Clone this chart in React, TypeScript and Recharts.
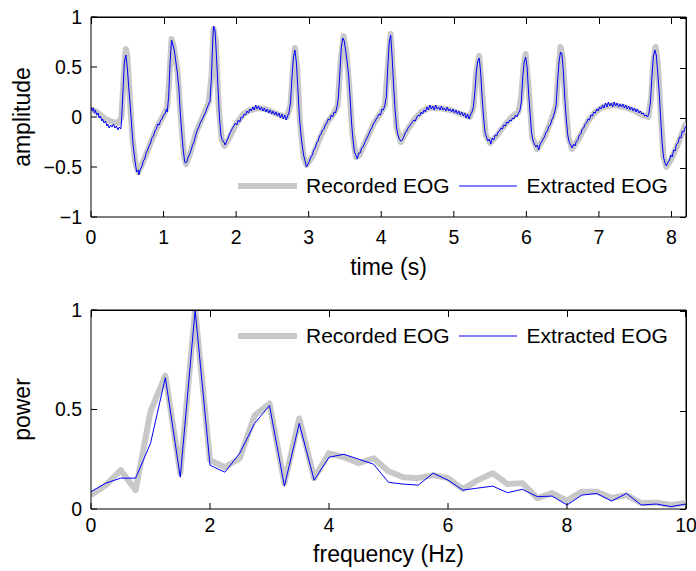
import { Legend, Line, LineChart, ReferenceLine, XAxis, YAxis } from "recharts"

// time series (s, amplitude)
const recordedEog: [number, number][] = [
  [0.0, 0.08], [0.1, 0.04], [0.2, -0.02], [0.3, -0.05], [0.38, -0.06], [0.42, 0.0], [0.45, 0.4], [0.48, 0.68],
  [0.5, 0.62], [0.53, 0.25], [0.57, -0.2], [0.61, -0.45], [0.65, -0.55], [0.7, -0.48], [0.8, -0.3], [0.9, -0.12],
  [1.0, 0.02], [1.05, 0.1], [1.08, 0.4], [1.11, 0.78], [1.14, 0.7], [1.19, 0.47], [1.24, -0.02], [1.28, -0.38],
  [1.31, -0.47], [1.36, -0.38], [1.45, -0.15], [1.55, 0.02], [1.62, 0.14], [1.66, 0.4], [1.69, 0.88], [1.72, 0.75],
  [1.76, 0.1], [1.8, -0.22], [1.84, -0.29], [1.9, -0.22], [2.0, -0.07], [2.1, 0.03], [2.2, 0.07], [2.3, 0.09],
  [2.4, 0.08], [2.5, 0.05], [2.6, 0.02], [2.7, 0.0], [2.75, 0.12], [2.78, 0.45], [2.81, 0.69], [2.84, 0.5],
  [2.88, -0.05], [2.93, -0.4], [2.97, -0.48], [3.05, -0.4], [3.15, -0.22], [3.25, -0.06], [3.35, 0.04], [3.4, 0.12],
  [3.44, 0.55], [3.48, 0.81], [3.52, 0.65], [3.56, 0.3], [3.6, -0.15], [3.65, -0.4], [3.7, -0.38], [3.8, -0.22],
  [3.9, -0.06], [4.0, 0.05], [4.05, 0.12], [4.09, 0.5], [4.13, 0.83], [4.17, 0.35], [4.21, -0.1], [4.27, -0.25],
  [4.35, -0.14], [4.45, -0.03], [4.55, 0.05], [4.65, 0.09], [4.8, 0.09], [4.95, 0.07], [5.1, 0.03], [5.22, 0.0],
  [5.27, 0.1], [5.31, 0.45], [5.35, 0.61], [5.39, 0.25], [5.44, -0.18], [5.5, -0.26], [5.6, -0.18], [5.7, -0.08],
  [5.8, 0.0], [5.89, 0.05], [5.93, 0.2], [5.96, 0.5], [5.99, 0.63], [6.03, 0.3], [6.08, -0.2], [6.15, -0.32],
  [6.25, -0.2], [6.35, -0.02], [6.41, 0.12], [6.44, 0.45], [6.47, 0.7], [6.5, 0.6], [6.54, 0.15], [6.58, -0.2],
  [6.63, -0.32], [6.72, -0.22], [6.85, -0.04], [6.95, 0.05], [7.05, 0.1], [7.2, 0.12], [7.35, 0.1], [7.5, 0.06],
  [7.6, 0.02], [7.68, 0.0], [7.72, 0.2], [7.75, 0.55], [7.78, 0.7], [7.81, 0.55], [7.85, 0.05], [7.89, -0.4],
  [7.93, -0.5], [8.0, -0.42], [8.1, -0.25], [8.2, -0.06],
]

const extractedEog: [number, number][] = [
  [0.0, 0.1], [0.02, 0.06], [0.03, 0.09], [0.05, 0.04], [0.06, 0.07], [0.08, 0.02], [0.1, 0.04], [0.11, -0.01],
  [0.13, 0.01], [0.15, -0.04], [0.16, -0.02], [0.18, -0.06], [0.2, -0.04], [0.22, -0.09], [0.23, -0.07], [0.25, -0.11],
  [0.27, -0.08], [0.29, -0.1], [0.31, -0.07], [0.33, -0.11], [0.35, -0.09], [0.37, -0.13], [0.39, -0.1], [0.41, -0.12],
  [0.42, -0.05], [0.44, 0.25], [0.46, 0.55], [0.48, 0.62], [0.5, 0.5], [0.52, 0.3], [0.55, 0.02], [0.58, -0.28],
  [0.61, -0.46], [0.63, -0.55], [0.65, -0.53], [0.66, -0.58], [0.68, -0.52], [0.7, -0.5], [0.72, -0.44], [0.74, -0.42],
  [0.76, -0.36], [0.78, -0.33], [0.8, -0.29], [0.82, -0.26], [0.84, -0.21], [0.86, -0.19], [0.88, -0.14], [0.9, -0.12],
  [0.92, -0.07], [0.94, -0.08], [0.96, -0.03], [0.98, -0.02], [1.0, 0.02], [1.02, 0.03], [1.04, 0.08], [1.05, 0.05],
  [1.07, 0.2], [1.09, 0.55], [1.11, 0.77], [1.13, 0.72], [1.15, 0.66], [1.17, 0.55], [1.19, 0.44], [1.21, 0.3],
  [1.23, 0.05], [1.25, -0.15], [1.27, -0.32], [1.29, -0.44], [1.3, -0.46], [1.32, -0.45], [1.34, -0.4], [1.36, -0.37],
  [1.38, -0.33], [1.4, -0.28], [1.42, -0.25], [1.44, -0.19], [1.46, -0.14], [1.48, -0.11], [1.5, -0.07], [1.52, -0.04],
  [1.54, -0.01], [1.56, 0.02], [1.58, 0.05], [1.6, 0.09], [1.62, 0.13], [1.64, 0.16], [1.66, 0.4], [1.68, 0.8],
  [1.69, 0.91], [1.71, 0.86], [1.73, 0.6], [1.75, 0.3], [1.77, 0.0], [1.79, -0.18], [1.81, -0.23], [1.83, -0.25],
  [1.85, -0.28], [1.87, -0.24], [1.89, -0.21], [1.91, -0.17], [1.93, -0.14], [1.95, -0.11], [1.97, -0.09], [1.99, -0.06],
  [2.01, -0.08], [2.03, -0.03], [2.05, -0.05], [2.07, 0.0], [2.09, -0.01], [2.11, 0.03], [2.13, 0.02], [2.15, 0.06],
  [2.17, 0.04], [2.19, 0.08], [2.21, 0.06], [2.23, 0.1], [2.25, 0.07], [2.27, 0.12], [2.29, 0.08], [2.31, 0.11],
  [2.33, 0.07], [2.35, 0.1], [2.37, 0.06], [2.39, 0.09], [2.41, 0.05], [2.43, 0.08], [2.45, 0.04], [2.47, 0.07],
  [2.49, 0.03], [2.51, 0.06], [2.53, 0.02], [2.55, 0.05], [2.57, 0.01], [2.59, 0.04], [2.61, -0.01], [2.63, 0.03],
  [2.65, -0.02], [2.67, 0.02], [2.69, -0.03], [2.71, 0.01], [2.73, 0.05], [2.75, 0.15], [2.77, 0.4], [2.79, 0.6],
  [2.81, 0.67], [2.83, 0.55], [2.85, 0.3], [2.87, 0.02], [2.89, -0.15], [2.91, -0.28], [2.93, -0.38], [2.95, -0.44],
  [2.97, -0.5], [2.99, -0.47], [3.01, -0.44], [3.03, -0.4], [3.05, -0.38], [3.07, -0.33], [3.09, -0.31], [3.11, -0.26],
  [3.13, -0.24], [3.15, -0.19], [3.17, -0.17], [3.19, -0.13], [3.21, -0.12], [3.23, -0.08], [3.25, -0.06], [3.27, -0.02],
  [3.29, -0.03], [3.31, 0.02], [3.33, 0.0], [3.35, 0.05], [3.37, 0.04], [3.39, 0.1], [3.41, 0.2], [3.43, 0.45],
  [3.45, 0.7], [3.47, 0.79], [3.49, 0.76], [3.51, 0.66], [3.53, 0.55], [3.55, 0.42], [3.57, 0.2], [3.59, -0.05],
  [3.61, -0.22], [3.63, -0.35], [3.65, -0.38], [3.67, -0.42], [3.69, -0.36], [3.71, -0.36], [3.73, -0.31], [3.75, -0.3],
  [3.77, -0.26], [3.79, -0.23], [3.81, -0.2], [3.83, -0.17], [3.85, -0.13], [3.87, -0.11], [3.89, -0.07], [3.91, -0.05],
  [3.93, -0.02], [3.95, 0.0], [3.97, 0.03], [3.99, 0.02], [4.01, 0.08], [4.03, 0.07], [4.05, 0.12], [4.07, 0.2],
  [4.09, 0.5], [4.11, 0.75], [4.13, 0.82], [4.15, 0.6], [4.17, 0.32], [4.19, 0.08], [4.21, -0.1], [4.23, -0.18],
  [4.25, -0.22], [4.27, -0.24], [4.29, -0.23], [4.31, -0.2], [4.33, -0.16], [4.35, -0.14], [4.37, -0.11], [4.39, -0.09],
  [4.41, -0.07], [4.43, -0.05], [4.45, -0.03], [4.47, -0.04], [4.49, 0.0], [4.51, 0.02], [4.53, 0.01], [4.55, 0.05],
  [4.57, 0.03], [4.59, 0.07], [4.61, 0.05], [4.63, 0.1], [4.65, 0.07], [4.67, 0.12], [4.69, 0.08], [4.71, 0.11],
  [4.73, 0.07], [4.75, 0.12], [4.77, 0.08], [4.79, 0.1], [4.81, 0.07], [4.83, 0.11], [4.85, 0.07], [4.87, 0.09],
  [4.89, 0.06], [4.91, 0.1], [4.93, 0.06], [4.95, 0.08], [4.97, 0.05], [4.99, 0.08], [5.01, 0.04], [5.03, 0.07],
  [5.05, 0.03], [5.07, 0.06], [5.09, 0.02], [5.11, 0.05], [5.13, 0.01], [5.15, 0.04], [5.17, -0.01], [5.19, 0.03],
  [5.21, -0.02], [5.23, 0.02], [5.25, 0.05], [5.27, 0.1], [5.29, 0.25], [5.31, 0.45], [5.33, 0.56], [5.35, 0.59],
  [5.37, 0.45], [5.39, 0.2], [5.41, 0.0], [5.43, -0.15], [5.45, -0.2], [5.47, -0.24], [5.49, -0.22], [5.51, -0.27],
  [5.53, -0.21], [5.55, -0.23], [5.57, -0.18], [5.59, -0.19], [5.61, -0.15], [5.63, -0.14], [5.65, -0.11], [5.67, -0.12],
  [5.69, -0.08], [5.71, -0.09], [5.73, -0.05], [5.75, -0.06], [5.77, -0.03], [5.79, -0.04], [5.81, -0.01], [5.83, -0.02],
  [5.85, 0.02], [5.87, 0.0], [5.89, 0.04], [5.91, 0.06], [5.93, 0.15], [5.95, 0.4], [5.97, 0.55], [5.99, 0.6],
  [6.01, 0.5], [6.03, 0.25], [6.05, 0.05], [6.07, -0.15], [6.09, -0.23], [6.11, -0.27], [6.13, -0.3], [6.15, -0.28],
  [6.17, -0.33], [6.19, -0.27], [6.21, -0.25], [6.23, -0.22], [6.25, -0.2], [6.27, -0.15], [6.29, -0.14], [6.31, -0.09],
  [6.33, -0.08], [6.35, -0.03], [6.37, 0.0], [6.39, 0.05], [6.41, 0.12], [6.43, 0.35], [6.45, 0.55], [6.47, 0.65],
  [6.49, 0.63], [6.51, 0.45], [6.53, 0.19], [6.55, -0.02], [6.57, -0.18], [6.59, -0.25], [6.61, -0.28], [6.63, -0.31],
  [6.65, -0.27], [6.67, -0.29], [6.69, -0.24], [6.71, -0.23], [6.73, -0.18], [6.75, -0.17], [6.77, -0.12], [6.79, -0.11],
  [6.81, -0.07], [6.83, -0.06], [6.85, -0.02], [6.87, -0.03], [6.89, 0.02], [6.91, 0.01], [6.93, 0.05], [6.95, 0.04],
  [6.97, 0.08], [6.99, 0.06], [7.01, 0.1], [7.03, 0.08], [7.05, 0.12], [7.07, 0.09], [7.09, 0.14], [7.11, 0.1],
  [7.13, 0.15], [7.15, 0.11], [7.17, 0.14], [7.19, 0.1], [7.21, 0.15], [7.23, 0.11], [7.25, 0.14], [7.27, 0.1],
  [7.29, 0.13], [7.31, 0.1], [7.33, 0.13], [7.35, 0.09], [7.37, 0.12], [7.39, 0.08], [7.41, 0.11], [7.43, 0.07],
  [7.45, 0.1], [7.47, 0.06], [7.49, 0.09], [7.51, 0.05], [7.53, 0.08], [7.55, 0.04], [7.57, 0.06], [7.59, 0.03],
  [7.61, 0.04], [7.63, 0.01], [7.65, 0.02], [7.67, 0.0], [7.69, 0.04], [7.71, 0.15], [7.73, 0.4], [7.75, 0.6],
  [7.77, 0.67], [7.79, 0.62], [7.81, 0.45], [7.83, 0.25], [7.85, 0.0], [7.87, -0.25], [7.89, -0.4], [7.91, -0.46],
  [7.93, -0.49], [7.95, -0.45], [7.97, -0.44], [7.99, -0.38], [8.01, -0.4], [8.03, -0.33], [8.05, -0.34], [8.07, -0.27],
  [8.09, -0.26], [8.11, -0.2], [8.13, -0.21], [8.15, -0.14], [8.17, -0.15], [8.19, -0.1], [8.2, -0.09],
]

// power spectrum
const freqHz = [
  0, 0.25, 0.5, 0.75, 1, 1.25, 1.5, 1.75, 2, 2.25, 2.5, 2.75, 3, 3.25, 3.5, 3.75, 4, 4.25, 4.5, 4.75, 5,
  5.25, 5.5, 5.75, 6, 6.25, 6.5, 6.75, 7, 7.25, 7.5, 7.75, 8, 8.25, 8.5, 8.75, 9, 9.25, 9.5, 9.75, 10,
]
const recordedPower = [
  0.07, 0.12, 0.195, 0.095, 0.49, 0.67, 0.18, 1.0, 0.245, 0.21, 0.255, 0.47, 0.53, 0.13, 0.455, 0.155, 0.28,
  0.26, 0.23, 0.255, 0.19, 0.16, 0.155, 0.17, 0.155, 0.1, 0.145, 0.18, 0.125, 0.13, 0.055, 0.08, 0.042, 0.087,
  0.087, 0.055, 0.07, 0.03, 0.032, 0.02, 0.03,
]
const extractedPower = [
  0.087, 0.13, 0.155, 0.155, 0.33, 0.66, 0.16, 1.0, 0.22, 0.185, 0.28, 0.43, 0.52, 0.115, 0.43, 0.145, 0.26,
  0.275, 0.25, 0.225, 0.134, 0.125, 0.12, 0.18, 0.145, 0.095, 0.105, 0.115, 0.082, 0.099, 0.062, 0.065, 0.02,
  0.07, 0.078, 0.04, 0.078, 0.02, 0.025, 0.012, 0.025,
]

const timeTicks = [0, 1, 2, 3, 4, 5, 6, 7, 8]
const ampTicks = [-1, -0.5, 0, 0.5, 1]
const freqTicks = [0, 2, 4, 6, 8, 10]
const powerTicks = [0, 0.5, 1]

const FONT = '"Liberation Sans", Arial, Helvetica, sans-serif'
const GREY = "#c8c8c8"
const BLUE = "#0000ff"
const tickStyle = { fontSize: 19.5, fill: "#000", fontFamily: FONT }
const labelStyle = { fontSize: 23, fill: "#000", fontFamily: FONT }

// plot box: left 91, right 686 in both panels
const BOX_L = 91
const BOX_R = 686

const fmt = (v: number) => (v < 0 ? "\u2212" + Math.abs(v) : String(v))

const pairs = (p: [number, number][]) => p.map(([x, y]) => ({ x, y }))
const zipped = (xs: number[], ys: number[]) => xs.map((x, i) => ({ x, y: ys[i] }))

function EogLegend() {
  return (
    <div style={{ display: "flex", alignItems: "center", fontFamily: FONT, fontSize: 21, whiteSpace: "nowrap" }}>
      <svg width={59} height={10}>
        <line x1={0} x2={59} y1={5} y2={5} stroke={GREY} strokeWidth={6} />
      </svg>
      <span style={{ marginLeft: 9, marginRight: 9 }}>Recorded EOG</span>
      <svg width={58} height={10}>
        <line x1={0} x2={58} y1={5} y2={5} stroke={BLUE} strokeWidth={1} />
      </svg>
      <span style={{ marginLeft: 10 }}>Extracted EOG</span>
    </div>
  )
}

// matlab-style "box on": inward ticks on the top and right sides
function BoxTicks({ top, bottom, xd, yd, xt, yt }: {
  top: number; bottom: number; xd: number[]; yd: number[]; xt: number[]; yt: number[]
}) {
  const w = BOX_R - BOX_L
  const h = bottom - top
  const sx = (v: number) => ((v - xd[0]) / (xd[1] - xd[0])) * w
  const sy = (v: number) => h - ((v - yd[0]) / (yd[1] - yd[0])) * h
  const mark = { position: "absolute" as const, background: "#000" }
  return (
    <div style={{
      position: "absolute", left: BOX_L, top: top, width: w + 1, height: h,
      borderTop: "1px solid #000", borderRight: "1px solid #000", boxSizing: "border-box",
      pointerEvents: "none", zIndex: 5,
    }}>
      {xt.map((t) => <div key={"x" + t} style={{ ...mark, left: Math.min(sx(t), w - 1), top: 0, width: 1, height: 6 }} />)}
      {yt.map((v) => <div key={"y" + v} style={{ ...mark, right: 0, top: Math.max(0, Math.min(sy(v), h - 1)), width: 6, height: 1 }} />)}
    </div>
  )
}

export default function App() {
  return (
    <div style={{ position: "absolute", left: 0, top: 0, width: 696, height: 571, background: "#fff" }}>
      <div style={{ position: "relative", width: 696, height: 290 }}>
        <LineChart width={696} height={290} margin={{ top: 17, right: 10, bottom: 0, left: 0 }}>
          <XAxis dataKey="x" type="number" domain={[0, 8.2]} ticks={timeTicks} allowDataOverflow
            height={73} tickSize={-6} tickMargin={19} tick={tickStyle} stroke="#000" tickFormatter={fmt}
            label={{ value: "time (s)", position: "insideBottom", offset: 15, style: labelStyle }} />
          <YAxis type="number" domain={[-1, 1]} ticks={ampTicks} allowDataOverflow width={91}
            tickSize={-6} tickMargin={15} tick={tickStyle} stroke="#000" tickFormatter={fmt}
            label={{ value: "amplitude", angle: -90, position: "insideLeft", offset: 22, style: { ...labelStyle, textAnchor: "middle" } }} />
          <ReferenceLine y={1} stroke="#000" strokeWidth={1} ifOverflow="extendDomain" />
          <ReferenceLine x={8.2} stroke="#000" strokeWidth={1} ifOverflow="extendDomain" />
          <Line data={pairs(recordedEog)} dataKey="y" type="linear" stroke={GREY} strokeWidth={6} dot={false}
            isAnimationActive={false} strokeLinejoin="round" />
          <Line data={pairs(extractedEog)} dataKey="y" type="linear" stroke={BLUE} strokeWidth={1} dot={false}
            isAnimationActive={false} />
          <Legend layout="horizontal" verticalAlign="middle" align="center" content={() => <EogLegend />}
            wrapperStyle={{ left: 238, top: 174, width: "auto" }} />
        </LineChart>
        <BoxTicks top={17} bottom={217} xd={[0, 8.2]} yd={[-1, 1]} xt={timeTicks} yt={ampTicks} />
      </div>
      <div style={{ position: "relative", width: 696, height: 281 }}>
        <LineChart width={696} height={281} margin={{ top: 20, right: 10, bottom: 0, left: 0 }}>
          <XAxis dataKey="x" type="number" domain={[0, 10]} ticks={freqTicks} allowDataOverflow
            height={62} tickSize={-6} tickMargin={15} tick={tickStyle} stroke="#000" tickFormatter={fmt}
            label={{ value: "frequency (Hz)", position: "insideBottom", offset: 9, style: labelStyle }} />
          <YAxis type="number" domain={[0, 1]} ticks={powerTicks} allowDataOverflow width={91}
            tickSize={-6} tickMargin={15} tick={tickStyle} stroke="#000" tickFormatter={fmt}
            label={{ value: "power", angle: -90, position: "insideLeft", offset: 22, style: { ...labelStyle, textAnchor: "middle" } }} />
          <ReferenceLine y={1} stroke="#000" strokeWidth={1} ifOverflow="extendDomain" />
          <ReferenceLine x={10} stroke="#000" strokeWidth={1} ifOverflow="extendDomain" />
          <Line data={zipped(freqHz, recordedPower)} dataKey="y" type="linear" stroke={GREY} strokeWidth={6} dot={false}
            isAnimationActive={false} strokeLinejoin="round" />
          <Line data={zipped(freqHz, extractedPower)} dataKey="y" type="linear" stroke={BLUE} strokeWidth={1} dot={false}
            isAnimationActive={false} />
          <Legend layout="horizontal" verticalAlign="middle" align="center" content={() => <EogLegend />}
            wrapperStyle={{ left: 238, top: 34, width: "auto" }} />
        </LineChart>
        <BoxTicks top={20} bottom={219} xd={[0, 10]} yd={[0, 1]} xt={freqTicks} yt={powerTicks} />
      </div>
    </div>
  )
}
